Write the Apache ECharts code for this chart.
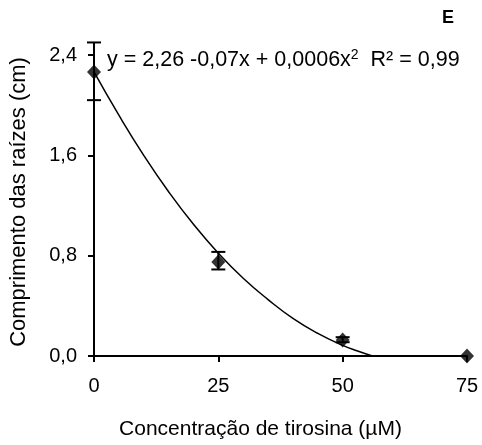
<!DOCTYPE html>
<html><head><meta charset="utf-8">
<script src="https://cdn.jsdelivr.net/npm/echarts@6/dist/echarts.min.js"></script>
<style>html,body{margin:0;padding:0;background:#fff}#c{width:482px;height:445px}</style>
</head><body><div id="c"></div>
<script>
// Observed means
var concentrations = [0, 25, 50, 75];
var rootLength = [2.265, 0.75, 0.128, 0.0];
// Error bars (low, high)
var errLow = [2.04, 0.69, 0.11, null];
var errHigh = [2.50, 0.83, 0.15, null];
// Fitted curve
var curveX = [0, 5, 10, 15, 20, 25, 30, 35, 40, 45, 50, 53, 56];
var curveY = [2.265, 1.92, 1.60, 1.31, 1.05, 0.82, 0.62, 0.45, 0.30, 0.18, 0.085, 0.04, 0.0];
var xTicks = [0, 25, 50, 75];
var yTicks = [0, 0.8, 1.6, 2.4];

var font = 'Liberation Sans, Arial, sans-serif';
var chart = echarts.init(document.getElementById('c'), null, {renderer: 'canvas'});
var pts = concentrations.map(function (x, i) { return [x, rootLength[i]]; });
var errs = [];
concentrations.forEach(function (x, i) { if (errLow[i] != null) errs.push([x, errLow[i], errHigh[i]]); });
var curve = curveX.map(function (x, i) { return [x, curveY[i]]; });

chart.setOption({
  animation: false,
  backgroundColor: '#fff',
  grid: {left: 92, right: 15, top: 55, bottom: 89},
  xAxis: {
    type: 'value', min: xTicks[0], max: xTicks[xTicks.length - 1], interval: 25,
    axisLine: {onZero: false, lineStyle: {color: '#000', width: 2}},
    axisTick: {show: true, length: 6, lineStyle: {color: '#000', width: 2}},
    splitLine: {show: false},
    axisLabel: {color: '#000', fontSize: 20, fontFamily: font, margin: 20},
    name: 'Concentração de tirosina (µM)', nameLocation: 'middle', nameGap: 63,
    nameTextStyle: {color: '#000', fontSize: 21, fontFamily: font, padding: [0, 40, 0, 0]}
  },
  yAxis: {
    type: 'value', min: yTicks[0], max: yTicks[yTicks.length - 1], interval: 0.8,
    axisLine: {show: true, lineStyle: {color: '#000', width: 2}},
    axisTick: {show: true, length: 6, lineStyle: {color: '#000', width: 2}},
    splitLine: {show: false},
    axisLabel: {color: '#000', fontSize: 20, fontFamily: font, margin: 17,
      formatter: function (v) { return v.toFixed(1).replace('.', ','); }},
    name: 'Comprimento das raízes (cm)', nameLocation: 'middle', nameGap: 64,
    nameTextStyle: {color: '#000', fontSize: 22, fontFamily: font, padding: [0, 0, 0, 7]}
  },
  graphic: [
    {type: 'text', left: 442, top: 9, style: {text: 'E', font: 'bold 18px ' + font, fill: '#000'}},
    {type: 'text', left: 107, top: 48, style: {
      text: '{t|y = 2,26 -0,07x + 0,0006x}{s|2}{t|  R² = 0,99}',
      rich: {
        t: {font: '21.5px ' + font, fill: '#000', verticalAlign: 'bottom'},
        s: {font: '14px ' + font, fill: '#000', padding: [0, 0, 9, 0], verticalAlign: 'bottom'}
      }
    }}
  ],
  series: [
    {type: 'line', data: curve, smooth: true, symbol: 'none', clip: false,
     lineStyle: {color: '#000', width: 1.5}, z: 2},
    {type: 'custom', data: errs, clip: false, z: 3,
     renderItem: function (params, api) {
       var x = api.value(0);
       var lo = api.coord([x, api.value(1)]);
       var hi = api.coord([x, api.value(2)]);
       var w = 7;
       var st = {stroke: '#000', lineWidth: 2};
       return {type: 'group', children: [
         {type: 'line', shape: {x1: lo[0], y1: lo[1], x2: hi[0], y2: hi[1]}, style: st},
         {type: 'line', shape: {x1: lo[0] - w, y1: lo[1], x2: lo[0] + w, y2: lo[1]}, style: st},
         {type: 'line', shape: {x1: hi[0] - w, y1: hi[1], x2: hi[0] + w, y2: hi[1]}, style: st}
       ]};
     }},
    {type: 'scatter', data: pts, symbol: 'diamond', symbolSize: [14, 15], clip: false,
     itemStyle: {color: '#000'}, z: 4}
  ]
});
</script></body></html>
